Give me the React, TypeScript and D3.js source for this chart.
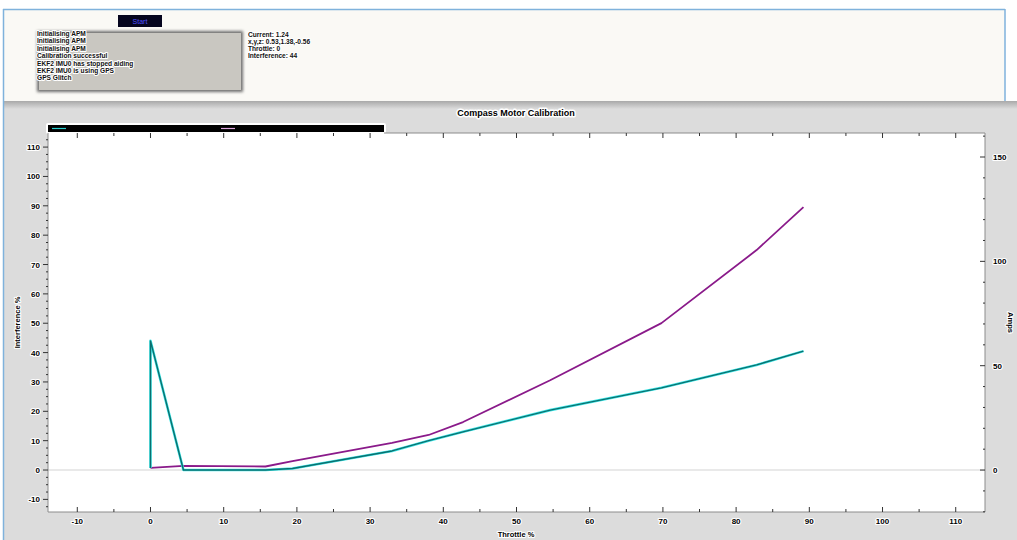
import * as d3 from 'd3';

// calibration samples
const throttle = [0, 0, 4.5, 15.7, 19.4, 33, 38, 42.7, 54.6, 69.8, 82.8, 89.2];
const interference = [0.7, 44, 0, 0, 0.5, 6.5, 10, 13, 20.4, 28, 35.8, 40.5];
const amps = [1, 1, 2, 1.7, 4.3, 13, 16.8, 23, 43, 70.4, 105.4, 126];

const logLines = [
  'Initialising APM',
  'Initialising APM',
  'Initialising APM',
  'Calibration successful',
  'EKF2 IMU0 has stopped aiding',
  'EKF2 IMU0 is using GPS',
  'GPS Glitch',
];
const statusLines = ['Current: 1.24', 'x,y,z: 0.53,1.38,-0.56', 'Throttle: 0', 'Interference: 44'];

const xTicks = d3.range(-10, 111, 10);
const yLeftTicks = d3.range(-10, 111, 10);
const yRightTicks = [0, 50, 100, 150];

const FONT = '"Liberation Sans", Arial, sans-serif';
const PURPLE = '#8a1a8a';

const halo = {
  stroke: '#fff',
  strokeWidth: 2.2,
  paintOrder: 'stroke' as const,
  strokeLinejoin: 'round' as const,
};

export default function App() {
  const left = 48;
  const right = 985;
  const top = 133;
  const bottom = 512;

  const x = d3.scaleLinear().domain([-14, 114]).range([left, right]);
  const yL = d3.scaleLinear().domain([-14.3, 114.8]).range([bottom, top]);
  const yR = d3.scaleLinear().domain([-20.1, 161.5]).range([bottom, top]);

  const pts = throttle.map((t, i) => ({ t, inter: interference[i], amp: amps[i] }));
  const interLine = d3.line<typeof pts[0]>().x((d) => x(d.t)).y((d) => yL(d.inter));
  const ampLine = d3.line<typeof pts[0]>().x((d) => x(d.t)).y((d) => yR(d.amp));

  const xMinor = d3.range(-10, 114, 5);
  const yLMinor = d3.range(-12.5, 114, 2.5);
  const yRMinor = d3.range(-20, 161, 10);

  return (
    <div style={{ position: 'fixed', left: 0, top: 0 }}>
      <svg width={1017} height={540} style={{ display: 'block', fontFamily: FONT }}>
        <defs>
          <linearGradient id="shade" x1="0" y1="0" x2="0" y2="1">
            <stop offset="0" stopColor="#a9a9a9" />
            <stop offset="1" stopColor="#dcdcdc" />
          </linearGradient>
          <filter id="blur" x="-10%" y="-20%" width="120%" height="140%">
            <feGaussianBlur stdDeviation="1.5" />
          </filter>
        </defs>

        {/* window background */}
        <rect x={0} y={0} width={1017} height={540} fill="#ffffff" />
        <rect x={4} y={9} width={1001} height={95} fill="#faf9f5" />
        <rect x={4} y={101} width={1013} height={439} fill="#dcdcdc" />
        <rect x={4} y={101} width={1013} height={8} fill="url(#shade)" />
        <line x1={3.5} y1={9} x2={3.5} y2={540} stroke="#7fb2dc" strokeWidth={1.5} />
        <line x1={3} y1={9.5} x2={1005} y2={9.5} stroke="#7fb2dc" strokeWidth={1.5} />
        <line x1={1005} y1={9} x2={1005} y2={101} stroke="#7fb2dc" strokeWidth={1.5} />

        {/* start button */}
        <rect x={118} y={15} width={44} height={12} fill="#05051e" />
        <text x={140} y={23.5} fontSize={7} fill="#5050ff" textAnchor="middle">
          Start
        </text>

        {/* message box */}
        <rect x={37} y={31} width={206} height={61} fill="#6e6e6e" filter="url(#blur)" />
        <rect x={39} y={33} width={202} height={57} fill="#c9c7c1" />
        {logLines.map((s, i) => (
          <text key={i} x={37} y={36 + i * 7.4} fontSize={6.6} fontWeight="bold" fill="#111" {...halo}>
            {s}
          </text>
        ))}
        {statusLines.map((s, i) => (
          <text key={i} x={248} y={37 + i * 7} fontSize={6.6} fontWeight="bold" fill="#111" {...halo}>
            {s}
          </text>
        ))}

        {/* title */}
        <text x={516} y={116} fontSize={9} fontWeight="bold" textAnchor="middle" fill="#000" {...halo} strokeWidth={3}>
          Compass Motor Calibration
        </text>

        {/* plot area */}
        <rect x={left} y={top} width={right - left} height={bottom - top} fill="#ffffff" />
        <line x1={left} x2={right} y1={yL(0)} y2={yL(0)} stroke="#e2e2e2" strokeWidth={1.5} />

        {/* legend bar */}
        <rect x={46} y={123} width={340} height={11} fill="#fff" rx={2} />
        <rect x={48} y={125} width={336} height={7} fill="#000" />
        <line x1={52} x2={66} y1={128.5} y2={128.5} stroke="#2ad0d0" strokeWidth={1.2} />
        <text x={70} y={131} fontSize={6} fill="#000">Interference %</text>
        <line x1={221} x2={235} y1={128.5} y2={128.5} stroke="#e0a8e0" strokeWidth={1.2} />
        <text x={239} y={131} fontSize={6} fill="#000">Amps</text>

        {/* top axis */}
        <line x1={384} x2={right} y1={top} y2={top} stroke="#8c8c8c" />
        {xMinor.map((v) => (
          <line key={v} x1={x(v)} x2={x(v)} y1={top} y2={top + (v % 10 === 0 ? 5 : 3)} stroke="#333" />
        ))}

        {/* bottom axis */}
        <line x1={left} x2={right} y1={bottom} y2={bottom} stroke="#8c8c8c" />
        {xMinor.map((v) => (
          <line key={v} x1={x(v)} x2={x(v)} y1={bottom - (v % 10 === 0 ? 5 : 3)} y2={bottom} stroke="#333" />
        ))}
        {xTicks.map((v) => (
          <text key={v} x={x(v)} y={524} fontSize={8} fontWeight="bold" textAnchor="middle" fill="#000" {...halo}>
            {v}
          </text>
        ))}
        <text x={516} y={537} fontSize={7.5} fontWeight="bold" textAnchor="middle" fill="#000" {...halo}>
          Throttle %
        </text>

        {/* left axis */}
        <line x1={left} x2={left} y1={top} y2={bottom} stroke="#8c8c8c" />
        {yLMinor.map((v) => (
          <line key={v} x1={left - (v % 10 === 0 ? 5 : 2)} x2={left} y1={yL(v)} y2={yL(v)} stroke="#333" />
        ))}
        {yLeftTicks.map((v) => (
          <text key={v} x={40} y={yL(v) + 3} fontSize={8} fontWeight="bold" textAnchor="end" fill="#000" {...halo}>
            {v}
          </text>
        ))}
        <text
          transform={`translate(20,${(top + bottom) / 2}) rotate(-90)`}
          fontSize={7.5}
          fontWeight="bold"
          textAnchor="middle"
          fill="#000"
          {...halo}
        >
          Interference %
        </text>

        {/* right axis */}
        <line x1={right} x2={right} y1={top} y2={bottom} stroke="#8c8c8c" />
        {yRMinor.map((v) => (
          <line key={v} x1={right - (v % 50 === 0 ? 5 : 2)} x2={right} y1={yR(v)} y2={yR(v)} stroke="#333" />
        ))}
        {yRightTicks.map((v) => (
          <text key={v} x={993} y={yR(v) + 3} fontSize={8} fontWeight="bold" textAnchor="start" fill="#000" {...halo}>
            {v}
          </text>
        ))}
        <text
          transform={`translate(1008,${(top + bottom) / 2}) rotate(90)`}
          fontSize={7.5}
          fontWeight="bold"
          textAnchor="middle"
          fill="#000"
          {...halo}
        >
          Amps
        </text>

        {/* series */}
        <path d={ampLine(pts) ?? ''} fill="none" stroke={PURPLE} strokeWidth={1.8} strokeLinejoin="round" />
        <path d={interLine(pts) ?? ''} fill="none" stroke="#3ce6e6" strokeWidth={2.6} strokeLinejoin="round" />
        <path d={interLine(pts) ?? ''} fill="none" stroke="#0b6f6f" strokeWidth={1.4} strokeLinejoin="round" />
      </svg>
    </div>
  );
}
